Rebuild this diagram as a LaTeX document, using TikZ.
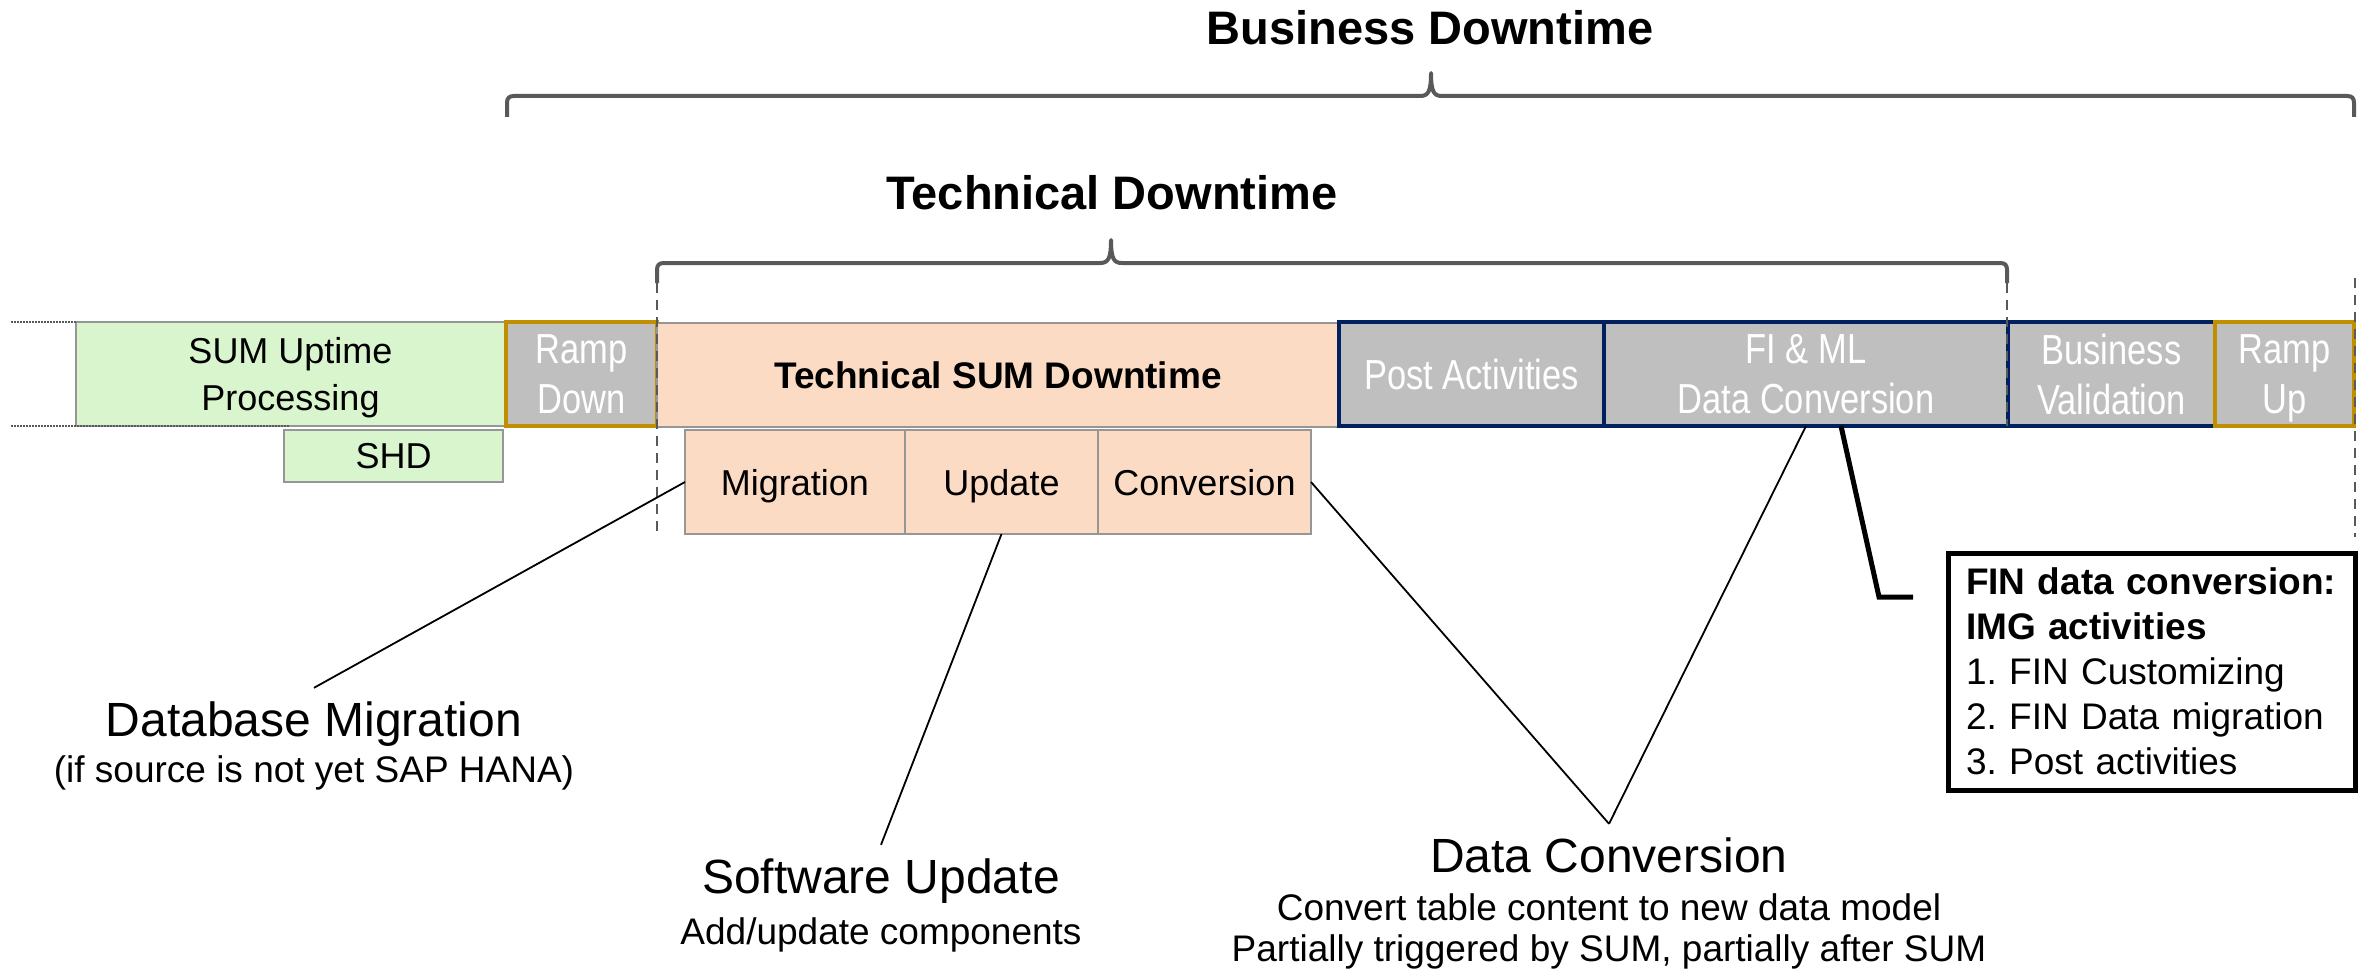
\documentclass[tikz,border=0pt]{standalone}
\usepackage{fontspec}
\setmainfont{Liberation Sans}
\newfontfamily\narrowfont[FakeStretch=0.82]{Liberation Sans}
\frenchspacing
\definecolor{upgreen}{RGB}{217,245,205}
\definecolor{peach}{RGB}{252,219,197}
\definecolor{greyfill}{RGB}{191,191,191}
\definecolor{navyline}{RGB}{0,32,96}
\definecolor{goldline}{RGB}{191,143,0}
\definecolor{bracegray}{RGB}{89,89,89}
\definecolor{boxline}{RGB}{150,150,150}
\tikzset{
  box/.style={rectangle, inner sep=0pt, outer sep=0pt, draw=boxline, line width=1.5pt,
    align=center, text depth=0pt, font=\fontsize{36}{47}\selectfont},
  greenbox/.style={box, fill=upgreen},
  peachbox/.style={box, fill=peach},
  greybox/.style={box, fill=greyfill, text=white, line width=4pt,
    font=\narrowfont\fontsize{42}{50}\selectfont},
  navybox/.style={greybox, draw=navyline},
  goldbox/.style={greybox, draw=goldline},
  title/.style={font=\bfseries\fontsize{47}{56}\selectfont, inner sep=0pt, anchor=base},
  lbl/.style={font=\fontsize{48}{56}\selectfont, text height=34pt, text depth=10pt,
    inner xsep=0pt, inner ysep=14pt, anchor=base},
  sublbl/.style={font=\fontsize{37}{44}\selectfont, inner sep=0pt, anchor=base},
  brace/.style={draw=bracegray, line width=4pt, line join=round},
  vdash/.style={draw=bracegray, line width=2.5pt, dash pattern=on 10pt off 7pt},
  dotline/.style={draw=bracegray, line width=1.5pt, dash pattern=on 1.5pt off 1.5pt},
  conn/.style={draw=black, line width=1.8pt},
  thickconn/.style={draw=black, line width=5pt},
  finbox/.style={rectangle, draw=black, line width=5pt, fill=white, align=left,
    text width=371pt, inner xsep=18pt, inner ysep=15pt, outer sep=0pt,
    font=\fontsize{37}{45}\selectfont}
}
\begin{document}
\begin{tikzpicture}[x=1pt, y=-1pt]
\useasboundingbox (0,0) rectangle (2365,971);

% titles
\node[title] (bd) at (1430,45) {Business Downtime};
\node[title] (td) at (1112,209) {Technical Downtime};

% braces
\draw[brace] (507,117) -- (507,103) .. controls (507,98) and (509,96) .. (514,96)
  -- (1420,96) .. controls (1428,96) and (1431,92) .. (1431,73)
  .. controls (1431,92) and (1434,96) .. (1442,96)
  -- (2347,96) .. controls (2352,96) and (2354,98) .. (2354,103) -- (2354,117);
\draw[brace] (657,283) -- (657,270) .. controls (657,265) and (659,263) .. (664,263)
  -- (1100,263) .. controls (1108,263) and (1111,259) .. (1111,240)
  .. controls (1111,259) and (1114,263) .. (1122,263)
  -- (2000,263) .. controls (2005,263) and (2007,265) .. (2007,270) -- (2007,283);

% main bar
\node[greenbox, minimum width=429pt, minimum height=104pt] (sum) at (290.5,374) {SUM Uptime\\Processing};
\node[goldbox, minimum width=151pt, minimum height=104pt] (rd) at (581.5,374) {Ramp\\Down};
\node[peachbox, minimum width=682pt, minimum height=104pt, font=\bfseries\fontsize{37}{47}\selectfont] (tsd) at (998,375) {Technical SUM Downtime};
\node[navybox, minimum width=265pt, minimum height=104pt] (post) at (1471.5,374) {Post Activities};
\node[navybox, minimum width=404pt, minimum height=104pt] (fiml) at (1806,374) {FI \& ML\\Data Conversion};
\node[navybox, minimum width=207pt, minimum height=104pt] (bv) at (2111.5,374) {Business\\Validation};
\node[goldbox, minimum width=139pt, minimum height=104pt] (ru) at (2284.5,374) {Ramp\\Up};

% sub boxes
\node[greenbox, minimum width=219pt, minimum height=52pt] (shd) at (393.5,456) {SHD};
\node[peachbox, minimum width=220pt, minimum height=104pt] (mig) at (795,482) {Migration};
\node[peachbox, minimum width=193pt, minimum height=104pt] (upd) at (1001.5,482) {Update};
\node[peachbox, minimum width=213pt, minimum height=104pt] (conv) at (1204.5,482) {Conversion};

% dotted and dashed guide lines
\draw[dotline] (11,322) -- (76,322);
\draw[dotline] (11,426) -- (290,426);
\draw[vdash] (657,283) -- (657,533);
\draw[vdash] (2007,283) -- (2007,426);
\draw[vdash] (2355,278) -- (2355,537);

% labels
\node[lbl] (dbm) at (314,736) {Database Migration};
\node[sublbl] (dbmsub) at (314,782) {(if source is not yet SAP HANA)};
\node[lbl] (swu) at (881,893) {Software Update};
\node[sublbl] (swusub) at (881,944) {Add/update components};
\node[lbl] (dc) at (1609,872) {Data Conversion};
\node[sublbl] (dcsub1) at (1609,920) {Convert table content to new data model};
\node[sublbl] (dcsub2) at (1609,961) {Partially triggered by SUM, partially after SUM};

% FIN box
\node[finbox, anchor=north west] (fin) at (1948,553)
  {\textbf{FIN data conversion:}\\\textbf{IMG activities}\\1. FIN Customizing\\2. FIN Data migration\\3. Post activities};

% connectors
\draw[conn] (mig.west) -- (dbm.north);
\draw[conn] (upd.south) -- (swu.north);
\draw[conn] (conv.east) -- (dc.north);
\draw[conn] (fiml.south) -- (dc.north);
\coordinate (k1) at (1879,597);
\coordinate (k2) at (1913,597);
\draw[thickconn] ([xshift=35pt]fiml.south) -- (k1) -- (k2);
\end{tikzpicture}
\end{document}
